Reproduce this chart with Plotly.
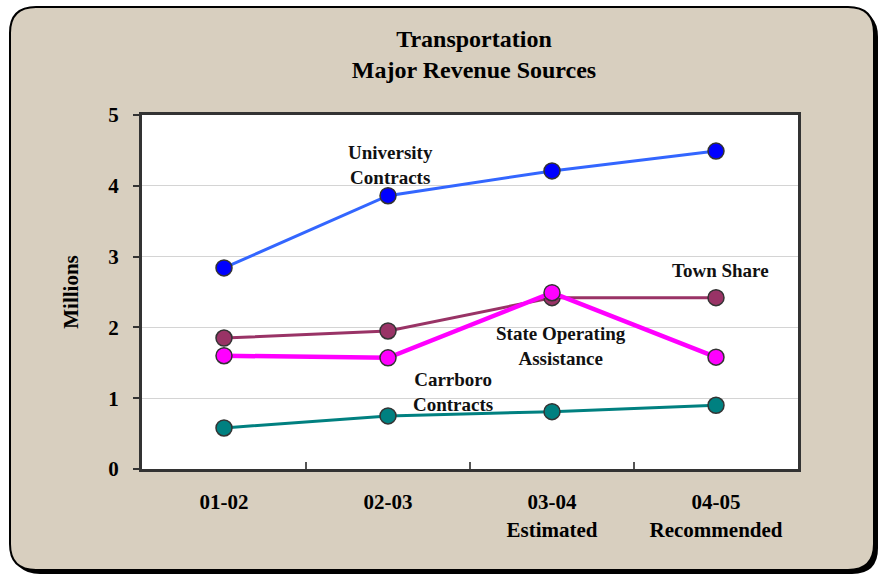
import plotly.graph_objects as go

# ---- data ----
categories = ["01-02", "02-03", "03-04<br>Estimated", "04-05<br>Recommended"]
university = [2.84, 3.86, 4.21, 4.49]
town_share = [1.85, 1.95, 2.42, 2.42]
state_op = [1.60, 1.57, 2.49, 1.58]
carrboro = [0.58, 0.75, 0.81, 0.90]
y_ticks = [0, 1, 2, 3, 4, 5]

# ---- layout geometry (pixels) ----
FW, FH = 880, 575
L, T, W, H = 142, 115, 656, 354
R = FW - L - W
B = FH - T - H

FONT = "Liberation Serif, Times New Roman, serif"
BEIGE = "#d8cfbf"


def px(X, Y):
    return (X - L) / W, (T + H - Y) / H


def rrect(x0, y0, x1, y1, r):
    pts = [
        ("M", [(x0 + r, y0)]),
        ("L", [(x1 - r, y0)]),
        ("Q", [(x1, y0), (x1, y0 + r)]),
        ("L", [(x1, y1 - r)]),
        ("Q", [(x1, y1), (x1 - r, y1)]),
        ("L", [(x0 + r, y1)]),
        ("Q", [(x0, y1), (x0, y1 - r)]),
        ("L", [(x0, y0 + r)]),
        ("Q", [(x0, y0), (x0 + r, y0)]),
    ]
    s = ""
    for cmd, ps in pts:
        s += cmd + " " + " ".join("%.5f,%.5f" % px(a, b) for a, b in ps) + " "
    return s + "Z"


fig = go.Figure()

def add_series(vals, line_color, marker_color, lw):
    fig.add_trace(go.Scatter(
        x=categories, y=vals, mode="lines+markers",
        line=dict(color=line_color, width=lw),
        marker=dict(size=16, color=marker_color, line=dict(color="#333333", width=1.5)),
        showlegend=False, hoverinfo="x+y",
    ))

add_series(university, "#3366ff", "#0000ff", 3)
add_series(town_share, "#993366", "#993366", 3)
add_series(state_op, "#ff00ff", "#ff00ff", 4.5)
add_series(carrboro, "#008080", "#008080", 3)

shapes = [
    dict(type="path", xref="paper", yref="paper", layer="below",
         path=rrect(14, 11, 878, 574, 26), fillcolor="#000000", line=dict(width=0)),
    dict(type="path", xref="paper", yref="paper", layer="below",
         path=rrect(10, 7, 874, 570, 26), fillcolor=BEIGE, line=dict(color="#000000", width=2)),
    dict(type="rect", xref="paper", yref="paper", layer="below",
         x0=0, y0=0, x1=1, y1=1, fillcolor="#ffffff", line=dict(width=0)),
]

def ann(text, X, Y):
    x, y = px(X, Y)
    return dict(text=text, x=x, y=y, xref="paper", yref="paper", showarrow=False,
                xanchor="center", yanchor="middle",
                font=dict(family=FONT, size=19, color="#111111", weight="bold"))

annotations = [
    ann("University<br>Contracts", 390, 165),
    ann("Town Share", 720, 270),
    ann("State Operating<br>Assistance", 561, 346),
    ann("Carrboro<br>Contracts", 453, 392),
]

fig.update_layout(
    width=FW, height=FH,
    margin=dict(l=L, r=R, t=T, b=B),
    paper_bgcolor="#ffffff",
    plot_bgcolor="#ffffff",
    title=dict(text="Transportation<br>Major Revenue Sources",
               x=474 / FW, xref="container", xanchor="center",
               y=1 - 47 / FH, yref="container", yanchor="middle",
               font=dict(family=FONT, size=24, color="#000000", weight="bold")),
    shapes=shapes,
    annotations=annotations,
    xaxis=dict(type="category", range=[-0.5, 3.5], tickson="boundaries",
               ticks="inside", ticklen=7, tickcolor="#555555", tickwidth=1.5,
               showgrid=False, showline=True, linecolor="#333333", linewidth=3,
               mirror=True, ticklabelstandoff=12,
               tickfont=dict(family=FONT, size=21, color="#000000", weight="bold")),
    yaxis=dict(range=[0, 5], tickvals=y_ticks, ticks="outside", ticklen=6,
               tickcolor="#333333", tickwidth=1.5,
               showgrid=True, gridcolor="#d4d4d4", gridwidth=1,
               showline=True, linecolor="#333333", linewidth=3, mirror=True,
               zeroline=False, ticklabelstandoff=10,
               title=dict(text="Millions", standoff=24,
                          font=dict(family=FONT, size=21, color="#000000", weight="bold")),
               tickfont=dict(family=FONT, size=21, color="#000000", weight="bold")),
)

fig.write_html("out.html")
